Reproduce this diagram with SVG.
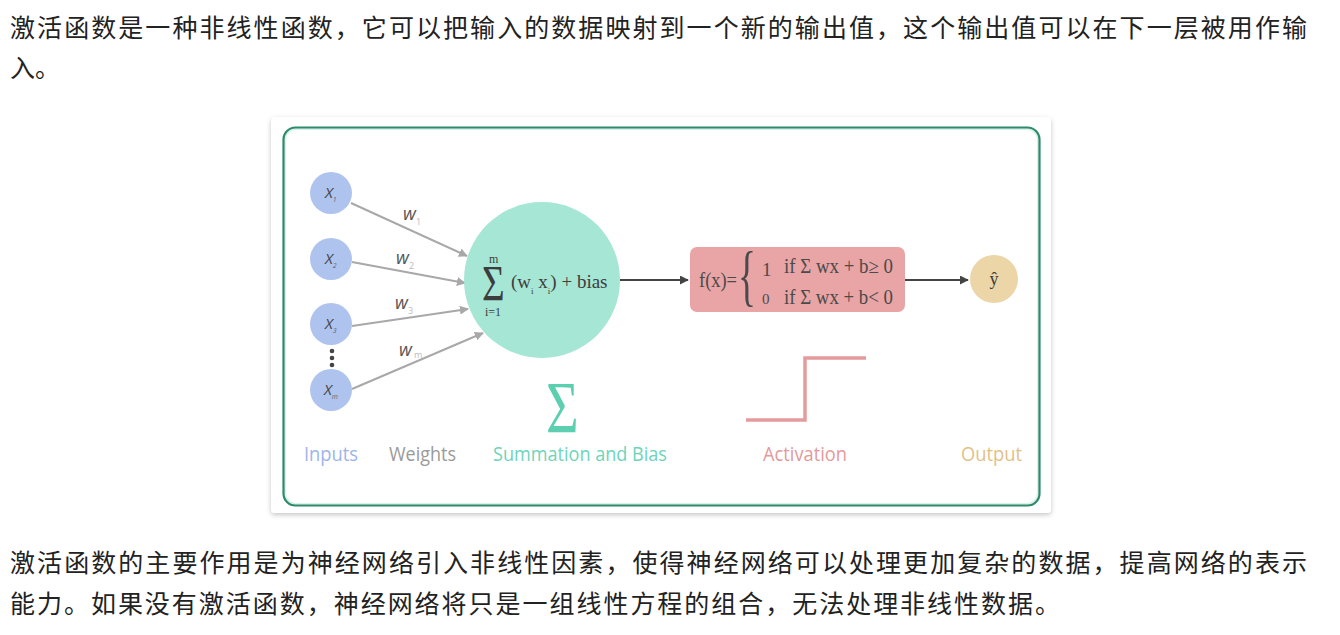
<svg xmlns="http://www.w3.org/2000/svg" width="1340" height="635" viewBox="0 0 1340 635">
<defs>
<filter id="sh" x="-5%" y="-5%" width="110%" height="110%">
<feDropShadow dx="0" dy="2" stdDeviation="2.5" flood-color="#000" flood-opacity="0.22"/>
</filter>
<marker id="ag" viewBox="0 0 10 10" refX="9" refY="5" markerWidth="9" markerHeight="9" orient="auto" markerUnits="userSpaceOnUse">
<path d="M0,0 L10,5 L0,10 z" fill="#a8a8a8"/>
</marker>
<marker id="ad" viewBox="0 0 10 10" refX="9" refY="5" markerWidth="9" markerHeight="9" orient="auto" markerUnits="userSpaceOnUse">
<path d="M0,0 L10,5 L0,10 z" fill="#444"/>
</marker>
<style>
.zh{font-family:"Noto Sans CJK SC","Noto Sans",sans-serif;font-size:25px;fill:#222}
.inp{fill:#aec3ee}
.xl{font-family:"Open Sans","Noto Sans",sans-serif;font-style:italic;font-size:15px;fill:#444}
.xs{font-family:"Open Sans",sans-serif;font-style:italic;font-size:7px;fill:#666}
.wl{font-family:"Open Sans",sans-serif;font-style:italic;font-size:18px;fill:#555}
.ws{font-family:"Open Sans",sans-serif;font-size:9px;fill:#bbb;font-style:normal}
.ser{font-family:"Liberation Serif","DejaVu Serif",serif;fill:#3d3d3d}
.act{font-family:"Liberation Serif","DejaVu Serif",serif;fill:#4a4a4a}
.lab{font-family:"Open Sans","Noto Sans",sans-serif;font-size:20px}
.wire{stroke:#a8a8a8;stroke-width:2;fill:none}
.dwire{stroke:#444;stroke-width:2;fill:none}
</style>
</defs>
<rect width="1340" height="635" fill="#fff"/>
<text class="zh" x="10" y="37" textLength="1297" lengthAdjust="spacing">激活函数是一种非线性函数，它可以把输入的数据映射到一个新的输出值，这个输出值可以在下一层被用作输</text>
<text class="zh" x="10" y="77">入。</text>
<text class="zh" x="10" y="572" textLength="1297" lengthAdjust="spacing">激活函数的主要作用是为神经网络引入非线性因素，使得神经网络可以处理更加复杂的数据，提高网络的表示</text>
<text class="zh" x="10" y="613" textLength="1050" lengthAdjust="spacing">能力。如果没有激活函数，神经网络将只是一组线性方程的组合，无法处理非线性数据。</text>
<g id="card">
<rect x="271" y="117" width="780" height="396" rx="4" fill="#fff" filter="url(#sh)"/>
<rect x="285" y="129" width="753" height="375" rx="11" fill="none" stroke="#d6f2ea" stroke-width="2"/>
<rect x="283.5" y="127.5" width="756" height="378" rx="12" fill="none" stroke="#2f8a6c" stroke-width="2.2"/>
</g>
<g id="connectors">
<line class="wire" x1="351" y1="203" x2="467" y2="256" marker-end="url(#ag)"/>
<line class="wire" x1="352" y1="262" x2="465" y2="283" marker-end="url(#ag)"/>
<line class="wire" x1="352" y1="326" x2="468" y2="309" marker-end="url(#ag)"/>
<line class="wire" x1="352" y1="389" x2="483" y2="333" marker-end="url(#ag)"/>
<line class="dwire" x1="620" y1="280" x2="688" y2="280" marker-end="url(#ad)"/>
<line class="dwire" x1="905" y1="280" x2="968" y2="280" marker-end="url(#ad)"/>
</g>
<g id="weights">
<text class="wl" x="403" y="220">w<tspan class="ws" dy="5">1</tspan></text>
<text class="wl" x="396" y="264">w<tspan class="ws" dy="5">2</tspan></text>
<text class="wl" x="395" y="309">w<tspan class="ws" dy="5">3</tspan></text>
<text class="wl" x="399" y="356">w<tspan class="ws" dx="2" dy="2">m</tspan></text>
</g>
<g id="x1"><circle class="inp" cx="331" cy="193" r="21"/><text class="xl" x="325" y="198">X<tspan class="xs" dy="4">1</tspan></text></g>
<g id="x2"><circle class="inp" cx="331" cy="259" r="21"/><text class="xl" x="325" y="264">X<tspan class="xs" dy="4">2</tspan></text></g>
<g id="x3"><circle class="inp" cx="331" cy="324" r="21"/><text class="xl" x="325" y="329">X<tspan class="xs" dy="4">3</tspan></text></g>
<g id="dots" fill="#444"><circle cx="332" cy="351" r="2.3"/><circle cx="332" cy="358" r="2.3"/><circle cx="332" cy="365" r="2.3"/></g>
<g id="xm"><circle class="inp" cx="331" cy="390" r="21"/><text class="xl" x="324" y="395">X<tspan class="xs" dy="4">m</tspan></text></g>
<g id="sum">
<circle cx="542" cy="280" r="78" fill="#a6e6d4"/>
<text class="ser" x="482" y="300" font-size="50" transform="translate(482,0) scale(0.78,1) translate(-482,0)">Σ</text>
<text class="ser" x="489" y="263" font-size="12">m</text>
<text class="ser" x="485" y="316" font-size="12">i=1</text>
<text class="ser" x="511" y="288" font-size="19">(w<tspan font-size="9" dy="6">i</tspan><tspan dy="-6"> x</tspan><tspan font-size="9" dy="6">i</tspan><tspan dy="-6">) + bias</tspan></text>
</g>
<g id="activation">
<rect x="690" y="247" width="215" height="65" rx="7" fill="#e9a4a6"/>
<text class="act" x="699" y="287" font-size="20" textLength="38" lengthAdjust="spacingAndGlyphs">f(x)=</text>
<text class="act" x="738" y="298" font-size="68" transform="translate(738,0) scale(0.55,1) translate(-738,0)">{</text>
<text class="act" x="762" y="276" font-size="19">1</text>
<text class="act" x="762" y="304" font-size="15">0</text>
<text class="act" x="784" y="273" font-size="20" textLength="109" lengthAdjust="spacingAndGlyphs">if Σ wx + b≥ 0</text>
<text class="act" x="784" y="304" font-size="20" textLength="109" lengthAdjust="spacingAndGlyphs">if Σ wx + b&lt; 0</text>
</g>
<g id="output">
<circle cx="994" cy="279" r="24" fill="#ecd5a7"/>
<text class="ser" x="994" y="285" font-size="18" text-anchor="middle" fill="#555">ŷ</text>
</g>
<g id="icons">
<text x="546" y="433" font-family="Liberation Serif, serif" font-size="74" fill="#5ccfb0" transform="translate(546,0) scale(0.76,1) translate(-546,0)">Σ</text>
<path d="M746,420 H805 V358 H866" fill="none" stroke="#e59a9c" stroke-width="3.5"/>
</g>
<g id="labels">
<text class="lab" x="304" y="461" fill="#9db4ea" textLength="54" lengthAdjust="spacingAndGlyphs">Inputs</text>
<text class="lab" x="389" y="461" fill="#9a9a9a" textLength="67" lengthAdjust="spacingAndGlyphs">Weights</text>
<text class="lab" x="493" y="461" fill="#6dd5bb" textLength="174" lengthAdjust="spacingAndGlyphs">Summation and Bias</text>
<text class="lab" x="763" y="461" fill="#e39a9b" textLength="84" lengthAdjust="spacingAndGlyphs">Activation</text>
<text class="lab" x="961" y="461" fill="#e2c187" textLength="61" lengthAdjust="spacingAndGlyphs">Output</text>
</g>
</svg>
